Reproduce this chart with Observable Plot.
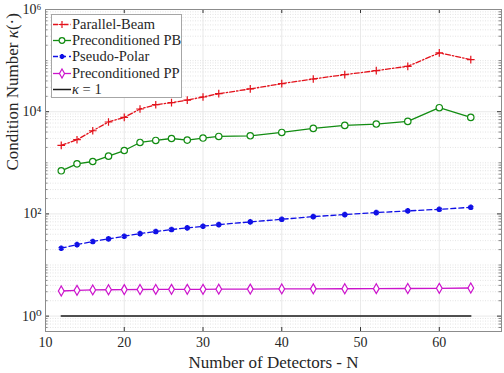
<!DOCTYPE html>
<html>
<head>
<meta charset="utf-8">
<script src="https://cdn.jsdelivr.net/npm/d3@7"></script>
<script src="https://cdn.jsdelivr.net/npm/@observablehq/plot@0.6"></script>
<style>
  html, body { margin: 0; padding: 0; background: #fff; }
  #wrap { position: relative; width: 504px; height: 373px; font-family: "Liberation Serif", "DejaVu Serif", serif; }
  #legend { position: absolute; left: 51px; top: 14px; width: 131px; height: 84px; background: #fff; border: 1px solid #a6a6a6; box-sizing: border-box; }
  #legend .row { position: absolute; left: 0; height: 16px; font-size: 14.5px; line-height: 16px; color: #262626; white-space: nowrap; }
  #legend svg { position: absolute; left: 0; top: 0; }
  #legend span { position: absolute; left: 20px; top: 0; }
</style>
</head>
<body>
<div id="wrap"></div>
<script>
// ---- data ----
const detectors = [12, 14, 16, 18, 20, 22, 24, 26, 28, 30, 32, 36, 40, 44, 48, 52, 56, 60, 64];
const parallelBeam = [2190, 2830, 4240, 6290, 7730, 11300, 13700, 15000, 16900, 19400, 22500, 27900, 35400, 43700, 53100, 63600, 77300, 141600, 104800];
const precondPB = [697, 955, 1060, 1350, 1740, 2500, 2740, 2990, 2780, 3050, 3280, 3380, 3930, 4710, 5390, 5740, 6460, 11980, 7730];
const pseudoPolar = [21.3, 25.1, 28.8, 32.5, 36.5, 41.2, 45.1, 49.4, 53.3, 57.3, 61.8, 69.8, 78.5, 88.6, 96.9, 106, 114.5, 123, 134.6];
const precondPP = [3.1, 3.2, 3.25, 3.28, 3.3, 3.32, 3.33, 3.34, 3.35, 3.35, 3.36, 3.38, 3.4, 3.42, 3.43, 3.45, 3.47, 3.5, 3.55];
const kappaN = [12, 64];
const kappaVal = [1, 1];
const seriesNames = ["Parallel-Beam", "Preconditioned PB", "Pseudo-Polar", "Preconditioned PP", "κ = 1"];
const xTicks = [10, 20, 30, 40, 50, 60];
const yTicks = [1, 100, 10000, 1000000];
const yTickLabels = ["10⁰", "10²", "10⁴", "10⁶"];

const colors = ["#e3121b", "#128c12", "#1010e6", "#cc14cc", "#1a1a1a"];
const dashes = ["5,2,1.5,2", null, "5,3", null, null];
const symbols = ["plus", "circle", "asterisk", "diamond", null];
const symR = {plus: 2.6, circle: 3.2, asterisk: 2.6, diamond: 3.0};

const series = [parallelBeam, precondPB, pseudoPolar, precondPP];
const rows = [];
series.forEach((vals, i) => detectors.forEach((n, j) => rows.push({s: i, n, v: vals[j]})));
const kRows = kappaN.map((n, j) => ({n, v: kappaVal[j]}));

// minor log grid values (2..9 x 10^k)
const minor = [];
for (let k = -1; k <= 5; k++) for (let m = 1; m <= 9; m++) {
  const v = m * Math.pow(10, k);
  if (v >= 0.5 && v <= 1e6 && !yTicks.includes(v)) minor.push(v);
}

const W = 504, H = 373, mL = 45, mR = 3, mT = 9, mB = 42;
const fw = W - mL - mR, fh = H - mT - mB;

const marks = [
  Plot.ruleY(minor, {y: d => d, stroke: "#d9d9d9", strokeDasharray: "1,1.5", strokeWidth: 0.7}),
  Plot.ruleY(yTicks, {y: d => d, stroke: "#e3e3e3", strokeWidth: 0.8}),
  Plot.ruleX(xTicks, {x: d => d, stroke: "#e3e3e3", strokeWidth: 0.8}),
  // inward ticks
  Plot.tickX(xTicks, {x: d => d, insetTop: fh - 4, stroke: "#333"}),
  Plot.tickX(xTicks, {x: d => d, insetBottom: fh - 4, stroke: "#333"}),
  Plot.tickY(yTicks, {y: d => d, insetRight: fw - 4, stroke: "#333"}),
  Plot.tickY(yTicks, {y: d => d, insetLeft: fw - 4, stroke: "#333"}),
  Plot.tickY(minor, {y: d => d, insetRight: fw - 2.5, stroke: "#555", strokeWidth: 0.7}),
  Plot.tickY(minor, {y: d => d, insetLeft: fw - 2.5, stroke: "#555", strokeWidth: 0.7}),
  Plot.frame({stroke: "#8c8c8c", strokeWidth: 1}),
  Plot.axisX({ticks: xTicks, tickSize: 0, tickPadding: 6, fontSize: 14, label: null, color: "#262626"}),
  Plot.axisY({ticks: yTicks, tickSize: 0, tickPadding: 4, fontSize: 14, label: null, tickFormat: d => yTickLabels[yTicks.indexOf(d)], color: "#262626"}),
];
series.forEach((vals, i) => {
  const data = rows.filter(r => r.s === i);
  marks.push(Plot.line(data, {x: "n", y: "v", stroke: colors[i], strokeWidth: 1.3, strokeDasharray: dashes[i]}));
  const sym = symbols[i];
  const opts = {x: "n", y: "v", symbol: () => sym, stroke: colors[i], fill: "none", strokeWidth: 1.2, r: symR[sym]};
  if (sym === "asterisk") { opts.strokeWidth = 2.2; }
  if (sym === "diamond" || sym === "circle") { opts.fill = "white"; }
  marks.push(Plot.dot(data, opts));
});
marks.push(Plot.line(kRows, {x: "n", y: "v", stroke: colors[4], strokeWidth: 1.5}));
marks.push(Plot.text(["Number of Detectors - N"], {frameAnchor: "bottom", lineAnchor: "middle", dy: 31, fontSize: 17, fill: "#262626", text: d => d}));
marks.push(Plot.text(["Condition Number κ(·)"], {frameAnchor: "left", lineAnchor: "middle", dx: -33, rotate: -90, fontSize: 17, fill: "#262626", text: d => d, className: "ylab"}));

const chart = Plot.plot({
  width: W, height: H,
  marginLeft: mL, marginRight: mR, marginTop: mT, marginBottom: mB,
  style: {fontFamily: "'Liberation Serif', 'DejaVu Serif', serif", background: "white"},
  x: {domain: [10, 67.9]},
  y: {type: "log", domain: [0.5, 1e6]},
  symbol: {type: "identity"},
  marks
});
const wrap = document.getElementById("wrap");
wrap.appendChild(chart);

// italic kappa in the y label
d3.select(chart).selectAll("text").each(function() {
  const t = d3.select(this);
  if (t.text() === "Condition Number κ(·)") {
    t.text(null);
    t.append("tspan").text("Condition Number ");
    t.append("tspan").attr("font-style", "italic").text("κ");
    t.append("tspan").text("(·)");
  }
});

// legend (built from the series definitions)
const legend = document.createElement("div");
legend.id = "legend";
seriesNames.forEach((name, i) => {
  const row = document.createElement("div");
  row.className = "row";
  row.style.top = (1 + i * 16.2) + "px";
  const svgNS = "http://www.w3.org/2000/svg";
  const svg = document.createElementNS(svgNS, "svg");
  svg.setAttribute("width", 20); svg.setAttribute("height", 16);
  const line = document.createElementNS(svgNS, "line");
  line.setAttribute("x1", 1); line.setAttribute("x2", 19);
  line.setAttribute("y1", 8.5); line.setAttribute("y2", 8.5);
  line.setAttribute("stroke", colors[i]); line.setAttribute("stroke-width", i === 4 ? 1.5 : 1.3);
  if (dashes[i]) line.setAttribute("stroke-dasharray", dashes[i]);
  svg.appendChild(line);
  if (symbols[i]) {
    const sym = symbols[i];
    const t = {plus: d3.symbolPlus, circle: d3.symbolCircle, asterisk: d3.symbolAsterisk, diamond: d3.symbolDiamond}[sym];
    const p = document.createElementNS(svgNS, "path");
    p.setAttribute("d", d3.symbol(t, symR[sym] * symR[sym] * Math.PI * 0.8)());
    p.setAttribute("transform", "translate(10,8.5)");
    p.setAttribute("stroke", colors[i]);
    p.setAttribute("fill", sym === "asterisk" || sym === "plus" ? "none" : "white");
    p.setAttribute("stroke-width", sym === "asterisk" ? 2 : 1.2);
    svg.appendChild(p);
  }
  row.appendChild(svg);
  const span = document.createElement("span");
  if (i === 4) {
    span.innerHTML = "<i>κ</i> = 1";
  } else {
    span.textContent = name;
  }
  row.appendChild(span);
  legend.appendChild(row);
});
wrap.appendChild(legend);
</script>
</body>
</html>
